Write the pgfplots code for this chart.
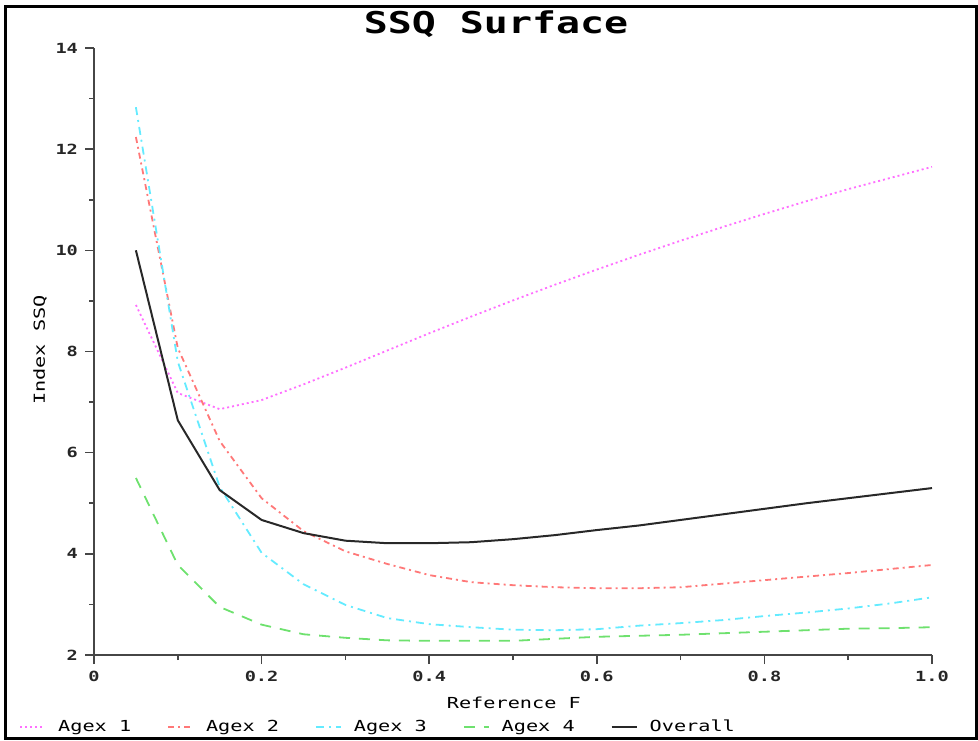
\documentclass[border=0pt]{standalone}
\usepackage{pgfplots}
\pgfplotsset{compat=1.18}
\usepackage{pgfplotstable}
\usepackage{fontspec}
\newfontfamily\sasfont[FakeStretch=1.33]{DejaVu Sans Mono}
\definecolor{cA}{RGB}{255,110,255}
\definecolor{cB}{RGB}{255,120,120}
\definecolor{cC}{RGB}{100,235,255}
\definecolor{cD}{RGB}{110,225,110}
\definecolor{cE}{RGB}{40,40,40}
\definecolor{axc}{RGB}{70,70,70}

\pgfplotstableread{
x y
0.05 8.92
0.10 7.18
0.15 6.86
0.20 7.04
0.25 7.35
0.30 7.68
0.35 8.02
0.40 8.36
0.45 8.69
0.50 9.01
0.55 9.32
0.60 9.62
0.65 9.91
0.70 10.19
0.75 10.46
0.80 10.72
0.85 10.97
0.90 11.21
0.95 11.43
1.00 11.65
}\agexone
\pgfplotstableread{
x y
0.05 12.24
0.10 8.07
0.15 6.23
0.20 5.10
0.25 4.45
0.30 4.05
0.35 3.80
0.40 3.58
0.45 3.44
0.50 3.38
0.55 3.34
0.60 3.32
0.65 3.32
0.70 3.34
0.75 3.41
0.80 3.48
0.85 3.55
0.90 3.62
0.95 3.70
1.00 3.78
}\agextwo
\pgfplotstableread{
x y
0.05 12.83
0.10 7.80
0.15 5.32
0.20 4.02
0.25 3.40
0.30 2.99
0.35 2.73
0.40 2.61
0.45 2.55
0.50 2.50
0.55 2.49
0.60 2.51
0.65 2.58
0.70 2.63
0.75 2.69
0.80 2.77
0.85 2.84
0.90 2.92
0.95 3.02
1.00 3.14
}\agexthree
\pgfplotstableread{
x y
0.05 5.50
0.10 3.78
0.15 2.95
0.20 2.60
0.25 2.41
0.30 2.34
0.35 2.29
0.40 2.28
0.45 2.28
0.50 2.28
0.55 2.32
0.60 2.36
0.65 2.38
0.70 2.40
0.75 2.43
0.80 2.46
0.85 2.49
0.90 2.52
0.95 2.53
1.00 2.55
}\agexfour
\pgfplotstableread{
x y
0.05 10.00
0.10 6.64
0.15 5.26
0.20 4.67
0.25 4.41
0.30 4.26
0.35 4.21
0.40 4.21
0.45 4.23
0.50 4.29
0.55 4.37
0.60 4.47
0.65 4.56
0.70 4.67
0.75 4.78
0.80 4.89
0.85 5.00
0.90 5.10
0.95 5.20
1.00 5.30
}\overall

\begin{document}
\begin{tikzpicture}
\useasboundingbox (0,0) rectangle (489pt,370pt);
\draw[line width=1.5pt, black] (2.5pt,1pt) rectangle (488pt,366.5pt);
\node[font=\sasfont\bfseries\fontsize{15}{15}\selectfont, anchor=center] at (248pt,358pt) {SSQ Surface};
\begin{axis}[
  at={(47pt,42.5pt)}, anchor=south west,
  scale only axis, width=419pt, height=303.5pt,
  xmin=0, xmax=1, ymin=2, ymax=14,
  axis x line=bottom, axis y line=left,
  axis line style={-, line width=1pt, color=axc},
  tick align=outside,
  major tick length=4.5pt, minor tick length=2.5pt,
  tick style={line width=0.8pt, color=axc},
  xtick={0,0.2,0.4,0.6,0.8,1.0},
  xticklabels={0,0.2,0.4,0.6,0.8,1.0},
  ytick={2,4,6,8,10,12,14},
  minor x tick num=1, minor y tick num=1,
  /pgf/number format/assume math mode=true,
  tick label style={font=\sasfont\bfseries\fontsize{7}{7}\selectfont, color=black!85},
  xlabel={Reference F}, ylabel={Index SSQ},
  every axis x label/.style={at={(axis description cs:0.501,-0.079)}, anchor=center, font=\sasfont\fontsize{7.6}{7.6}\selectfont},
  every axis y label/.style={at={(axis description cs:-0.0644,0.5025)}, anchor=center, rotate=90, font=\sasfont\fontsize{7.6}{7.6}\selectfont},
  legend columns=5,
  legend style={at={(axis description cs:-0.0895,-0.1186)}, anchor=west, draw=none, fill=none, inner sep=0pt,
    font=\sasfont\fontsize{7.6}{7.6}\selectfont,
    /tikz/every odd column/.append style={column sep=4pt},
    /tikz/every even column/.append style={column sep=16pt}},
  legend image code/.code={\draw[#1] (0pt,0pt) -- (12.5pt,0pt);},
  clip=false,
]
\addplot[cA, line width=0.9pt, dash pattern=on 1pt off 1.5pt] table[x=x,y=y]{\agexone};
\addlegendentry{Agex 1}
\addplot[cB, line width=0.9pt, dash pattern=on 3pt off 2pt on 1pt off 2pt] table[x=x,y=y]{\agextwo};
\addlegendentry{Agex 2}
\addplot[cC, line width=0.9pt, dash pattern=on 4pt off 2.5pt on 1pt off 2.5pt] table[x=x,y=y]{\agexthree};
\addlegendentry{Agex 3}
\addplot[cD, line width=0.9pt, dash pattern=on 5.5pt off 4.5pt] table[x=x,y=y]{\agexfour};
\addlegendentry{Agex 4}
\addplot[cE, line width=1pt] table[x=x,y=y]{\overall};
\addlegendentry{Overall}
\end{axis}
\end{tikzpicture}
\end{document}
